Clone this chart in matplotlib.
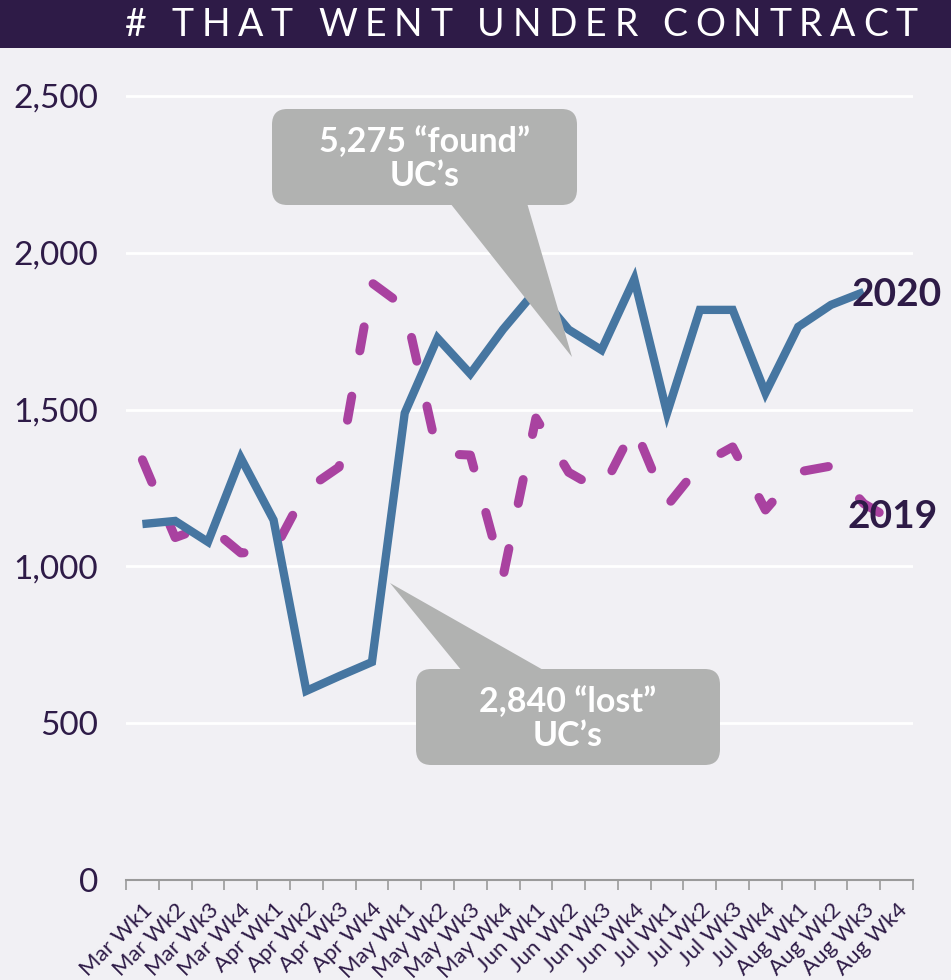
import matplotlib
matplotlib.use("Agg")
import matplotlib.pyplot as plt
from matplotlib.patches import FancyBboxPatch, Polygon, Rectangle
import numpy as np

# data
weeks = ["Mar Wk1", "Mar Wk2", "Mar Wk3", "Mar Wk4",
         "Apr Wk1", "Apr Wk2", "Apr Wk3", "Apr Wk4",
         "May Wk1", "May Wk2", "May Wk3", "May Wk4",
         "Jun Wk1", "Jun Wk2", "Jun Wk3", "Jun Wk4",
         "Jul Wk1", "Jul Wk2", "Jul Wk3", "Jul Wk4",
         "Aug Wk1", "Aug Wk2", "Aug Wk3", "Aug Wk4"]
uc_2020 = [1135, 1145, 1078, 1346, 1148, 603, 650, 695,
           1489, 1728, 1614, 1756, 1880, 1755, 1690, 1916,
           1489, 1818, 1818, 1553, 1764, 1834, 1875, np.nan]
uc_2019 = [1340, 1092, 1130, 1043, 1048, 1245, 1317, 1904,
           1827, 1360, 1355, 968, 1473, 1300, 1240, 1445,
           1193, 1323, 1381, 1180, 1301, 1320, 1200, 1140]
yticks = [0, 500, 1000, 1500, 2000, 2500]
title = "# THAT WENT UNDER CONTRACT"
found_txt = "5,275 \u201cfound\u201d\nUC\u2019s"
lost_txt = "2,840 \u201clost\u201d\nUC\u2019s"

BG = "#f1f0f4"
DARK = "#2e1b47"
BLUE = "#4676a1"
MAGENTA = "#a942a0"
GRAY = "#b1b2b1"
FONT = ["Lato", "DejaVu Sans"]

W, H = 951, 980
fig = plt.figure(figsize=(W / 100, H / 100), dpi=100, facecolor=BG)

# axes placed in pixel terms of the reference
ytop = 2520
ax = fig.add_axes([126 / W, 100 / H, 787 / W, (784 * ytop / 2500) / H])
ax.set_facecolor(BG)

x = np.arange(len(weeks))
ax.plot(x, uc_2019, color=MAGENTA, lw=6.5, dashes=(2.7, 5.1),
        solid_capstyle="round", dash_capstyle="round", zorder=3)
ax.plot(x, uc_2020, color=BLUE, lw=6, solid_joinstyle="miter",
        solid_capstyle="butt", zorder=4)

ax.set_xlim(-0.5, len(weeks) - 0.5)
ax.set_ylim(0, ytop)
ax.set_yticks(yticks)
ax.set_yticklabels([f"{v:,}" for v in yticks], fontsize=24, color=DARK,
                   family=FONT)
ax.tick_params(axis="y", length=0, pad=20)
ax.grid(axis="y", color="white", lw=2, zorder=1)
ax.set_axisbelow(True)

ax.set_xticks(np.arange(len(weeks) + 1) - 0.5)
ax.set_xticklabels([])
ax.set_xticks(x, minor=True)
ax.set_xticklabels(weeks, minor=True, rotation=45, ha="right",
                   rotation_mode="anchor", fontsize=16, color=DARK,
                   family=FONT)
ax.tick_params(axis="x", which="major", length=7, width=1.2, color="#9a9a9a")
ax.tick_params(axis="x", which="minor", length=0, pad=14)

for s in ["left", "right", "top"]:
    ax.spines[s].set_visible(False)
ax.spines["bottom"].set_color("#9a9a9a")
ax.spines["bottom"].set_linewidth(1.5)

# series labels
fig.text(897 / W, 1 - 295 / H, "2020", fontsize=28, fontweight="bold",
         color=DARK, family=FONT, ha="center", va="center", zorder=6)
fig.text(893 / W, 1 - 517 / H, "2019", fontsize=28, fontweight="bold",
         color=DARK, family=FONT, ha="center", va="center", zorder=6)


def px(xp, yp):
    # reference pixel -> figure fraction
    return (xp / W, 1 - yp / H)


def callout(box, tri, txt):
    x0, y0, x1, y1 = box
    bx, by = px(x0, y1)
    fig.patches.append(FancyBboxPatch(
        (bx, by), (x1 - x0) / W, (y1 - y0) / H,
        boxstyle="round,pad=0,rounding_size=0.016",
        transform=fig.transFigure, facecolor=GRAY, edgecolor="none",
        zorder=7))
    fig.patches.append(Polygon([px(*p) for p in tri], closed=True,
                               transform=fig.transFigure, facecolor=GRAY,
                               edgecolor="none", zorder=7))
    cx, cy = px((x0 + x1) / 2, (y0 + y1) / 2 + 2)
    fig.text(cx, cy, txt, ha="center", va="center", fontsize=24.5,
             fontweight="bold", color="white", linespacing=1.1,
             family=FONT, zorder=8)


callout((272, 109, 577, 205), [(450, 203), (527, 203), (572, 357)], found_txt)
callout((416, 669, 720, 765), [(462, 671), (545, 671), (390, 583)], lost_txt)

# title band
fig.patches.append(Rectangle((0, 1 - 48 / H), 1, 48 / H,
                             transform=fig.transFigure, facecolor=DARK,
                             edgecolor="none", zorder=0))

# letter-spaced title: place each character, spread over x = 125..918 px
renderer = fig.canvas.get_renderer()
tkw = dict(fontsize=27, color="white", family=FONT, va="center", ha="left")


def text_width(s):
    t = fig.text(0, 0, s + "|", **tkw)
    w = t.get_window_extent(renderer).width
    t.remove()
    return w


bar_w = text_width("")
offsets = [text_width(title[:i]) - bar_w for i in range(len(title))]
full_w = text_width(title) - bar_w
track = (793 - full_w) / (len(title) - 1)
for i, ch in enumerate(title):
    if ch == " ":
        continue
    fig.text((125 + offsets[i] + i * track) / W, 1 - 25 / H, ch, **tkw)

fig.savefig("out.png", dpi=100, facecolor=BG)
